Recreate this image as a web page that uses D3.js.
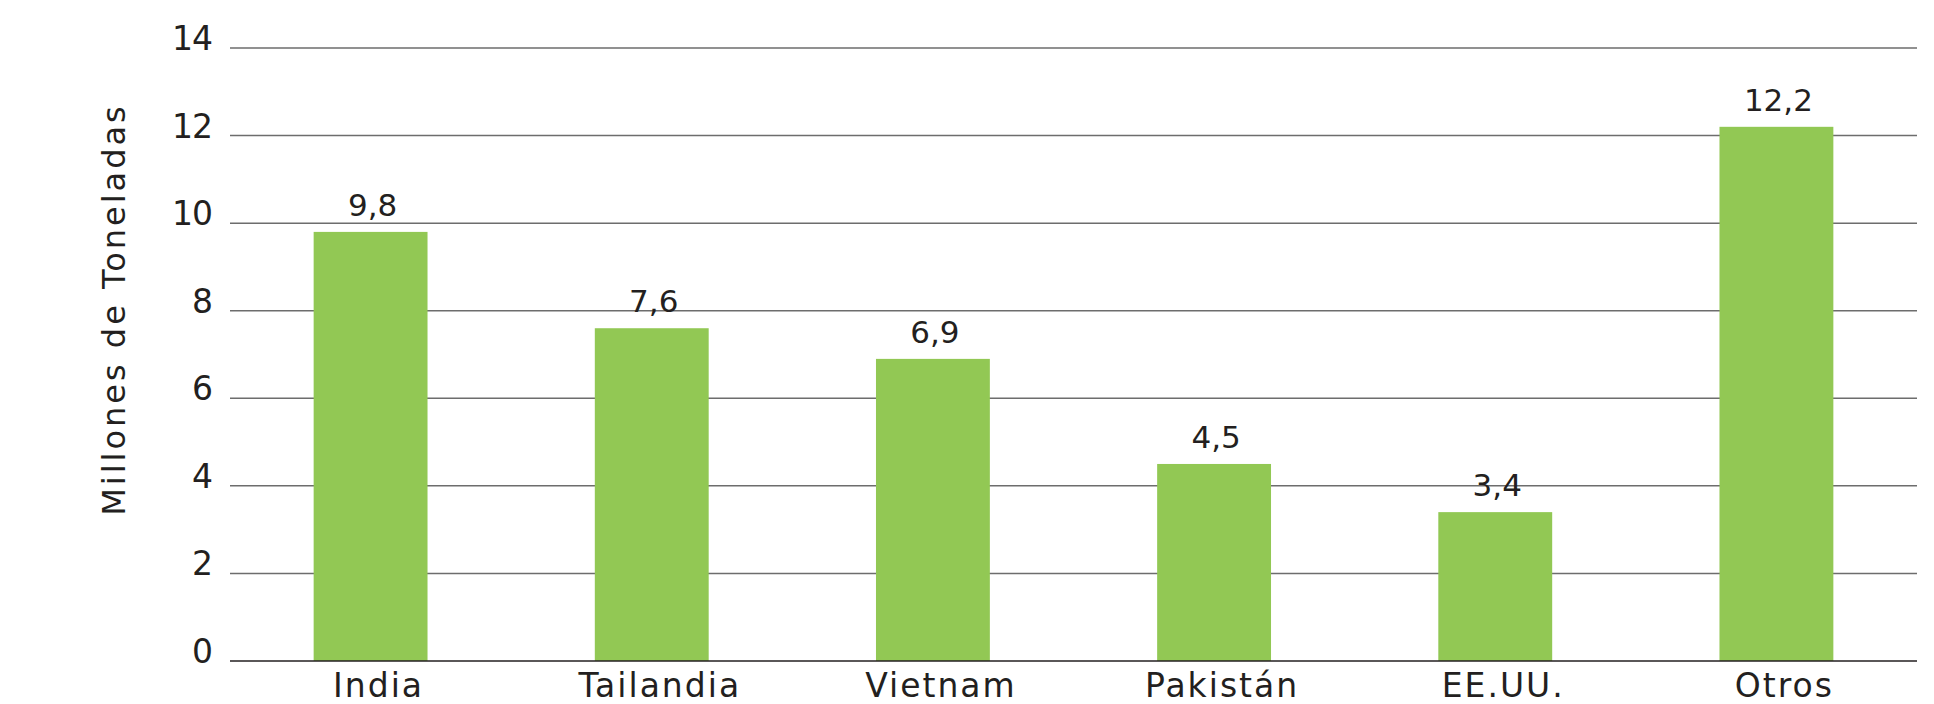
<!DOCTYPE html>
<html>
<head>
<meta charset="utf-8">
<script src="https://cdn.jsdelivr.net/npm/d3@7"></script>
<style>
  html, body { margin: 0; padding: 0; background: #ffffff; }
  svg { display: block; }
  text { font-family: "DejaVu Sans", "Noto Sans", sans-serif; fill: #231f20; }
</style>
</head>
<body>
<svg id="chart" width="1934" height="704"></svg>
<script>
const categories = ["India", "Tailandia", "Vietnam", "Pakistán", "EE.UU.", "Otros"];
const values = [9.8, 7.6, 6.9, 4.5, 3.4, 12.2];
const valueLabels = ["9,8", "7,6", "6,9", "4,5", "3,4", "12,2"];
const yTicks = [0, 2, 4, 6, 8, 10, 12, 14];
const yTitle = "Millones de Toneladas";

const svg = d3.select("#chart");
const margin = { left: 230, right: 17, top: 48, bottom: 43 };
const W = 1934, H = 704;

const x = d3.scaleBand()
  .domain(categories)
  .range([margin.left, W - margin.right])
  .paddingInner(0.595)
  .paddingOuter(0.2975);

const y = d3.scaleLinear()
  .domain([0, 14])
  .range([H - margin.bottom, margin.top]);

// gridlines
svg.append("g")
  .selectAll("line")
  .data(yTicks.filter(d => d !== 0))
  .join("line")
  .attr("x1", margin.left)
  .attr("x2", W - margin.right)
  .attr("y1", d => y(d))
  .attr("y2", d => y(d))
  .attr("stroke", "#6d6d6d")
  .attr("stroke-width", 1.5);

// y tick labels
svg.append("g")
  .selectAll("text")
  .data(yTicks)
  .join("text")
  .attr("x", margin.left - 18)
  .attr("y", d => y(d) + 2)
  .attr("text-anchor", "end")
  .attr("font-size", 33)
  .attr("letter-spacing", -1)
  .text(d => d);

// bars
svg.append("g")
  .selectAll("rect")
  .data(values)
  .join("rect")
  .attr("x", (d, i) => x(categories[i]))
  .attr("width", x.bandwidth())
  .attr("y", d => y(d))
  .attr("height", d => y(0) - y(d))
  .attr("fill", "#92c854");

// baseline
svg.append("line")
  .attr("x1", margin.left)
  .attr("x2", W - margin.right)
  .attr("y1", y(0))
  .attr("y2", y(0))
  .attr("stroke", "#231f20")
  .attr("stroke-width", 1.5);

// value labels
svg.append("g")
  .selectAll("text")
  .data(values)
  .join("text")
  .attr("x", (d, i) => x(categories[i]) + x.bandwidth() / 2 + 2)
  .attr("y", d => y(d) - 16)
  .attr("text-anchor", "middle")
  .attr("font-size", 31)
  .text((d, i) => valueLabels[i]);

// category labels
svg.append("g")
  .selectAll("text")
  .data(categories)
  .join("text")
  .attr("x", d => x(d) + x.bandwidth() / 2 + 8)
  .attr("y", y(0) + 36)
  .attr("text-anchor", "middle")
  .attr("font-size", 33)
  .attr("letter-spacing", 2)
  .text(d => d);

// y title
svg.append("text")
  .attr("transform", `translate(125, ${(y(0) + y(14)) / 2 - 45}) rotate(-90)`)
  .attr("text-anchor", "middle")
  .attr("font-size", 32)
  .attr("letter-spacing", 3)
  .text(yTitle);
</script>
</body>
</html>
